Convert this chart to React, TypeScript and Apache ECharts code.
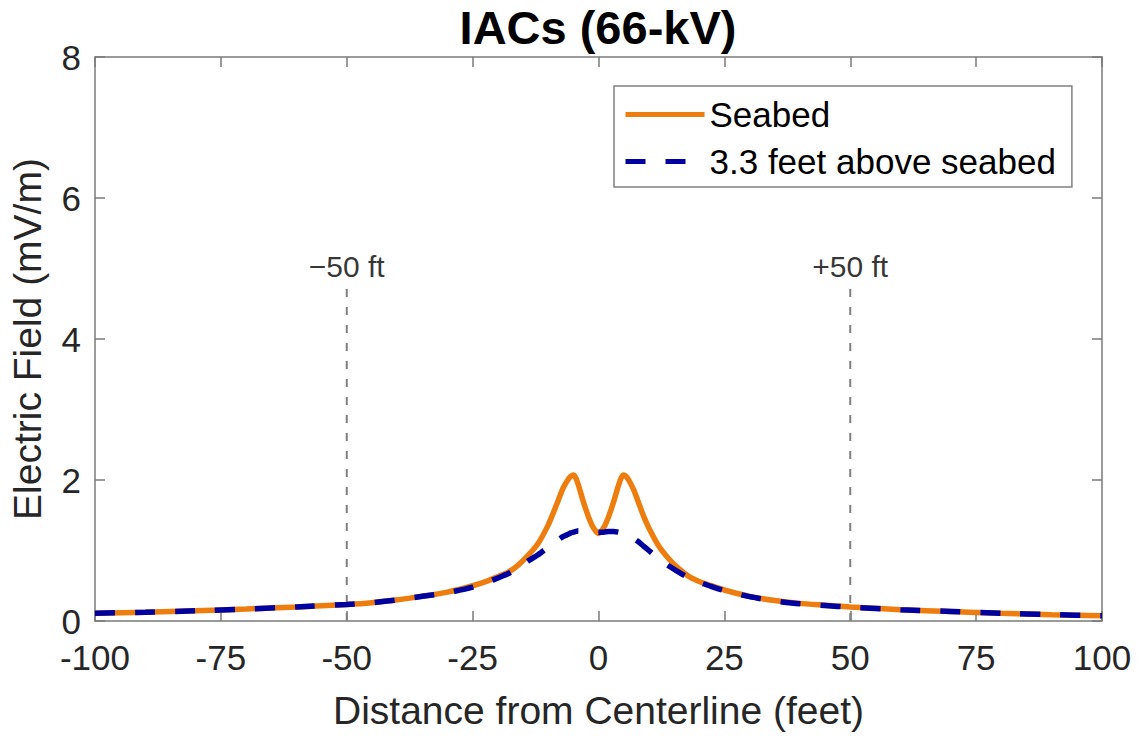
import React, { useEffect, useRef } from "react";
import * as echarts from "echarts";

const xs = [-100, -90, -80, -70, -60, -50, -45, -40, -35, -30, -25, -22, -20, -18, -16, -14, -12, -10, -9, -8, -7, -6, -5.5, -5, -4.5, -4, -3, -2, -1, 0, 1, 2, 3, 4, 4.5, 5, 5.5, 6, 7, 8, 9, 10, 12, 14, 16, 18, 20, 22, 25, 30, 35, 40, 45, 50, 60, 70, 80, 90, 100];

const seabed = [0.11, 0.125, 0.145, 0.17, 0.2, 0.235, 0.26, 0.3, 0.35, 0.41, 0.5, 0.57, 0.63, 0.69, 0.79, 0.93, 1.1, 1.36, 1.53, 1.71, 1.89, 2.01, 2.05, 2.07, 2.03, 1.93, 1.69, 1.48, 1.32, 1.24, 1.32, 1.48, 1.69, 1.93, 2.03, 2.07, 2.05, 2.0, 1.86, 1.67, 1.48, 1.32, 1.06, 0.88, 0.74, 0.63, 0.56, 0.51, 0.44, 0.35, 0.29, 0.25, 0.225, 0.2, 0.16, 0.135, 0.11, 0.09, 0.075];

const above = [0.11, 0.125, 0.145, 0.17, 0.2, 0.235, 0.26, 0.3, 0.35, 0.4, 0.48, 0.55, 0.61, 0.67, 0.75, 0.85, 0.94, 1.05, 1.1, 1.15, 1.2, 1.23, 1.25, 1.26, 1.27, 1.28, 1.28, 1.27, 1.26, 1.26, 1.26, 1.27, 1.27, 1.26, 1.25, 1.24, 1.23, 1.21, 1.17, 1.12, 1.06, 1.0, 0.88, 0.78, 0.69, 0.61, 0.55, 0.5, 0.43, 0.345, 0.285, 0.245, 0.22, 0.195, 0.16, 0.135, 0.11, 0.09, 0.075];

const xTicks = { min: -100, max: 100, interval: 25 };
const yTicks = { min: 0, max: 8, interval: 2 };
const markerXs = [-50, 50];
const markerLabels = ["\u221250 ft", "+50 ft"];
const markerTop = 4.79;
const seriesNames = ["Seabed", "3.3 feet above seabed"];
const titleText = "IACs (66-kV)";
const xName = "Distance from Centerline (feet)";
const yName = "Electric Field (mV/m)";

const FONT = "'Liberation Sans', Arial, Helvetica, sans-serif";
const AXIS_COLOR = "#7a7a7a";
const TEXT_COLOR = "#262626";
const ORANGE = "#ED7D0E";
const NAVY = "#0000A0";

export default function App() {
  const ref = useRef<HTMLDivElement>(null);
  useEffect(() => {
    if (!ref.current) return;
    const chart = echarts.init(ref.current, undefined, { renderer: "svg" });
    const pair = (ys: number[]) => xs.map((x, i) => [x, ys[i]]);
    const axisBase = {
      type: "value" as const,
      axisLine: { show: true, onZero: false, lineStyle: { color: AXIS_COLOR, width: 1.5 } },
      axisTick: { show: true, inside: true, length: 10, lineStyle: { color: AXIS_COLOR, width: 1.5 } },
      splitLine: { show: false },
    };
    const markerSeries: any[] = markerXs.map((mx, i) => ({
      type: "line",
      name: "marker" + i,
      data: [[mx, 0], [mx, markerTop]],
      symbol: "none",
      silent: true,
      lineStyle: { color: "#808080", width: 2, type: [8, 10] },
      z: 1,
    }));
    const labelSeries = {
      type: "scatter",
      name: "markerLabels",
      data: markerXs.map((mx, i) => ({ value: [mx, markerTop], label: { formatter: markerLabels[i] } })),
      symbolSize: 0,
      silent: true,
      label: {
        show: true,
        position: "top",
        distance: 2,
        fontSize: 30,
        fontFamily: FONT,
        color: "#000",
      },
    };
    chart.setOption({
      animation: false,
      backgroundColor: "#fff",
      title: {
        text: titleText,
        left: 598,
        top: 4,
        padding: 0,
        textAlign: "center",
        textStyle: { fontSize: 47, fontWeight: "bold", fontFamily: FONT, color: "#000" },
      },
      grid: { left: 94, right: 41, top: 57, bottom: 117, containLabel: false },
      legend: {
        data: seriesNames,
        orient: "vertical",
        left: 614,
        top: 86,
        padding: [11, 16, 8, 9],
        itemGap: 12,
        itemWidth: 79,
        itemHeight: 14,
        borderColor: "#808080",
        borderWidth: 1.5,
        backgroundColor: "#fff",
        itemStyle: { opacity: 0, borderWidth: 0 },
        lineStyle: { width: 5 },
        textStyle: { fontSize: 35, fontFamily: FONT, color: "#000" },
      },
      xAxis: [
        {
          ...axisBase,
          ...xTicks,
          position: "bottom",
          name: xName,
          nameLocation: "middle",
          nameGap: 70,
          nameTextStyle: { fontSize: 39, fontFamily: FONT, color: TEXT_COLOR },
          axisLabel: { fontSize: 35, fontFamily: FONT, color: TEXT_COLOR, margin: 19 },
        },
        {
          ...axisBase,
          ...xTicks,
          position: "top",
          axisLabel: { show: false },
        },
      ],
      yAxis: [
        {
          ...axisBase,
          ...yTicks,
          position: "left",
          name: yName,
          nameLocation: "middle",
          nameGap: 48,
          nameTextStyle: { fontSize: 39, fontFamily: FONT, color: TEXT_COLOR },
          axisLabel: { fontSize: 35, fontFamily: FONT, color: TEXT_COLOR, margin: 14 },
        },
        {
          ...axisBase,
          ...yTicks,
          position: "right",
          axisLabel: { show: false },
        },
      ],
      series: [
        ...markerSeries,
        labelSeries,
        {
          type: "line",
          name: seriesNames[0],
          data: pair(seabed),
          symbol: "none",
          smooth: 0.2,
          lineStyle: { color: ORANGE, width: 5.5 },
          itemStyle: { color: ORANGE },
          z: 3,
        },
        {
          type: "line",
          name: seriesNames[1],
          data: pair(above),
          symbol: "none",
          smooth: 0.2,
          lineStyle: { color: NAVY, width: 5.5, type: [20, 20] },
          itemStyle: { color: NAVY },
          z: 4,
        },
      ],
    });
    return () => chart.dispose();
  }, []);
  return <div ref={ref} style={{ position: "absolute", left: 0, top: 0, width: 1143, height: 738 }} />;
}
